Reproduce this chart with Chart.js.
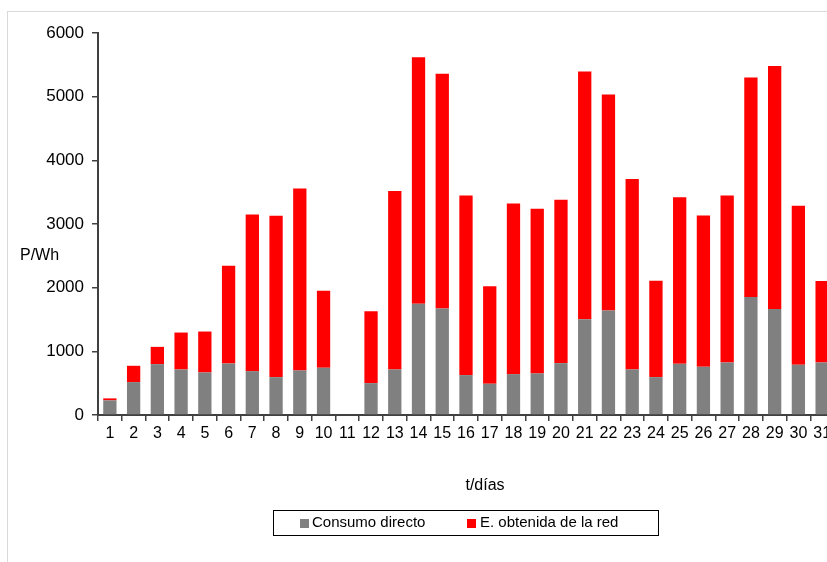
<!DOCTYPE html>
<html>
<head>
<meta charset="utf-8">
<script src="https://cdn.jsdelivr.net/npm/chart.js@4"></script>
<style>
  html, body { margin: 0; padding: 0; background: #fff; overflow: hidden; }
  #wrap { position: relative; width: 827px; height: 562px; overflow: hidden; }
  #frame { position: absolute; left: 7px; top: 11px; width: 830px; height: 560px;
           border-top: 1px solid #d9d9d9; border-left: 1px solid #d9d9d9; }
  #usageChart { position: absolute; left: 0; top: 0; }
</style>
</head>
<body>
<div id="wrap">
  <div id="frame"></div>
  <canvas id="usageChart" width="842" height="562"></canvas>
</div>
<script>
const days = ['1','2','3','4','5','6','7','8','9','10','11','12','13','14','15','16',
              '17','18','19','20','21','22','23','24','25','26','27','28','29','30','31'];
const consumoDirecto = [230, 517, 799, 715, 668, 809, 689, 595, 700, 742, 0, 501, 715, 1749, 1671, 627,
                        491, 642, 653, 815, 1504, 1640, 715, 595, 804, 757, 825, 1854, 1666, 789, 825];
const energiaRed = [31, 256, 271, 580, 643, 1536, 2460, 2533, 2856, 1211, 0, 1128, 2805, 3870, 3687, 2819,
                    1530, 2679, 2585, 2564, 3890, 3394, 2993, 1515, 2616, 2376, 2621, 3446, 3817, 2496, 1279];
const yTicks = [0, 1000, 2000, 3000, 4000, 5000, 6000];

const ctx = document.getElementById('usageChart').getContext('2d');

const extraText = {
    id: 'extraText',
    afterDraw(chart) {
        const c = chart.ctx;
        c.save();
        c.fillStyle = '#000';
        c.font = '16px "Liberation Sans", Arial, sans-serif';
        c.textBaseline = 'middle';
        c.textAlign = 'left';
        c.fillText('P/Wh', 20, 256);
        c.textAlign = 'center';
        c.fillText('t/días', 485, 486);

        // legend box
        c.strokeStyle = '#000';
        c.lineWidth = 1;
        c.strokeRect(273.5, 510.5, 385, 25);
        c.font = '15px "Liberation Sans", Arial, sans-serif';
        c.textAlign = 'left';
        c.fillStyle = '#808080';
        c.fillRect(300, 519, 9, 9);
        c.fillStyle = '#000';
        c.fillText('Consumo directo', 312, 523);
        c.fillStyle = '#ff0000';
        c.fillRect(467, 519, 9, 9);
        c.fillStyle = '#000';
        c.fillText('E. obtenida de la red', 480, 523);
        c.restore();
    }
};

const usageChart = new Chart(ctx, {
    type: 'bar',
    data: {
        labels: days,
        datasets: [{
            label: 'Consumo directo',
            data: consumoDirecto,
            backgroundColor: '#808080',
            barPercentage: 0.56,
            categoryPercentage: 1
        }, {
            label: 'E. obtenida de la red',
            data: energiaRed,
            backgroundColor: '#ff0000',
            barPercentage: 0.56,
            categoryPercentage: 1
        }]
    },
    options: {
        responsive: false,
        animation: false,
        layout: { padding: { top: 33, right: 8, left: 0, bottom: 0 } },
        plugins: {
            legend: { display: false },
            tooltip: { enabled: false }
        },
        scales: {
            x: {
                stacked: true,
                afterFit: (scale) => { scale.height = 147; },
                border: { display: true, color: '#404040', width: 2 },
                grid: { display: true, drawOnChartArea: false, tickLength: 6, color: '#404040', lineWidth: 1.5 },
                ticks: {
                    color: '#000',
                    font: { family: '"Liberation Sans", Arial, sans-serif', size: 16 },
                    padding: 3,
                    maxRotation: 0,
                    autoSkip: false
                }
            },
            y: {
                stacked: true,
                min: 0,
                max: 6000,
                afterFit: (scale) => { scale.width = 98; },
                afterBuildTicks: (scale) => { scale.ticks = yTicks.map(v => ({ value: v })); },
                border: { display: true, color: '#404040', width: 2 },
                grid: { display: true, drawOnChartArea: false, tickLength: 6, color: '#404040', lineWidth: 1.5 },
                ticks: {
                    color: '#000',
                    font: { family: '"Liberation Sans", Arial, sans-serif', size: 17 },
                    padding: 8,
                    callback: (value) => String(value)
                }
            }
        }
    },
    plugins: [extraText]
});
</script>
</body>
</html>
